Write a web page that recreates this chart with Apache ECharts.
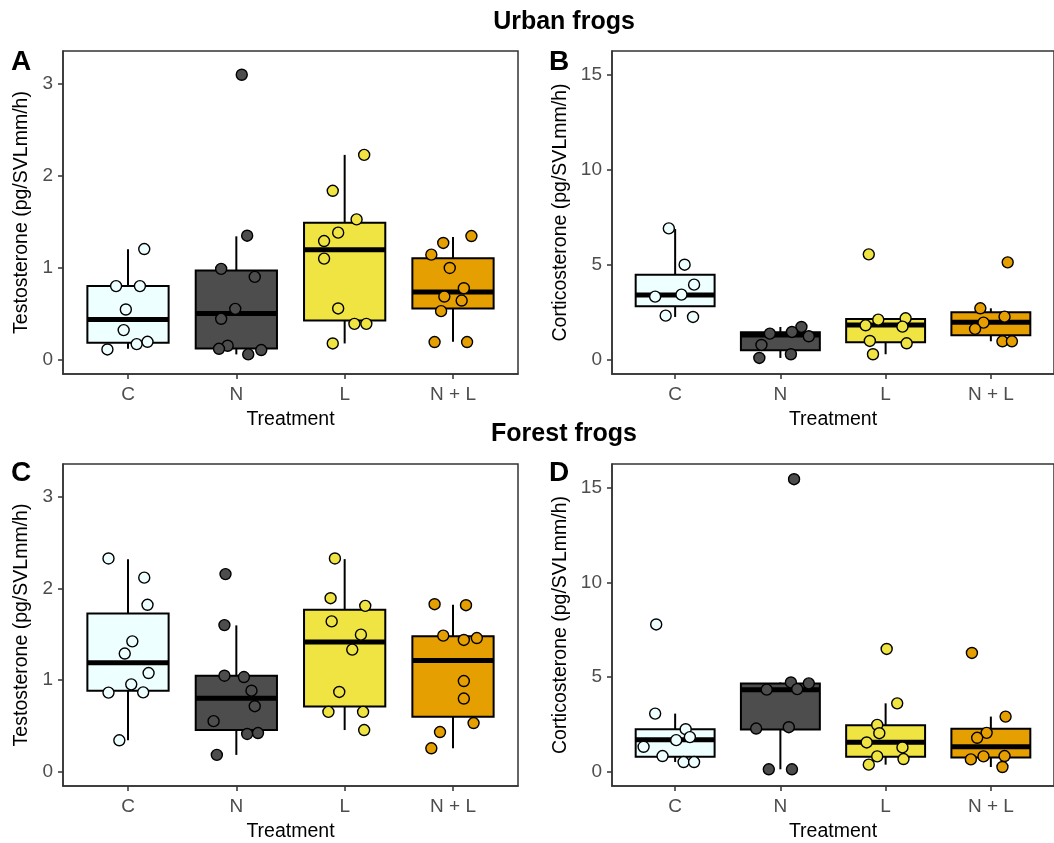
<!DOCTYPE html>
<html>
<head>
<meta charset="utf-8">
<script src="https://cdn.jsdelivr.net/npm/echarts@6/dist/echarts.min.js"></script>
<style>
html,body{margin:0;padding:0;background:#fff;}
#chart{width:1054px;height:843px;}
</style>
</head>
<body>
<div id="chart"></div>
<script>
// ---------- data ----------
const categories = ['C', 'N', 'L', 'N + L'];
const testoTicks = [0, 1, 2, 3];
const corticoTicks = [0, 5, 10, 15];

// Box stats per treatment: [lower whisker, Q1, median, Q3, upper whisker]
const urbanTestoBox = [
  [0.12, 0.184, 0.437, 0.80, 1.20],
  [0.058, 0.123, 0.502, 0.969, 1.341],
  [0.177, 0.426, 1.196, 1.489, 2.226],
  [0.195, 0.557, 0.737, 1.102, 1.334]
];
const urbanTestoValues = [
  [0.112, 0.80, 0.80, 1.203, 0.546, 0.322, 0.170, 0.195],
  [3.097, 1.348, 0.987, 0.90, 0.553, 0.445, 0.152, 0.119, 0.105, 0.058],
  [2.226, 1.836, 1.525, 1.381, 1.290, 1.099, 0.557, 0.390, 0.390, 0.177],
  [1.344, 1.269, 1.142, 0.997, 0.777, 0.687, 0.643, 0.528, 0.192, 0.192]
];
const urbanTestoJitter = [
  [-0.19, -0.11, 0.11, 0.15, -0.02, -0.04, 0.08, 0.18],
  [0.05, 0.10, -0.14, 0.17, -0.01, -0.14, -0.08, -0.16, 0.23, 0.11],
  [0.18, -0.11, 0.11, -0.06, -0.19, -0.19, -0.06, 0.09, 0.20, -0.11],
  [0.17, -0.09, -0.20, -0.03, 0.10, -0.08, 0.08, -0.11, -0.17, 0.13]
];

const urbanCortiBox = [
  [2.258, 2.818, 3.413, 4.481, 6.88],
  [0.105, 0.508, 1.31, 1.453, 1.733],
  [0.298, 0.928, 1.838, 2.153, 2.188],
  [0.98, 1.295, 1.978, 2.503, 2.713]
];
const urbanCortiValues = [
  [6.914, 5.006, 3.956, 3.326, 3.431, 2.328, 2.258],
  [1.733, 1.383, 1.470, 1.243, 0.788, 0.298, 0.105],
  [5.549, 2.118, 2.188, 1.820, 1.750, 0.998, 0.875, 0.298],
  [5.129, 2.713, 2.276, 1.960, 1.628, 0.980, 0.980]
];
const urbanCortiJitter = [
  [-0.06, 0.09, 0.18, -0.19, 0.06, -0.09, 0.17],
  [0.20, -0.10, 0.11, 0.27, -0.18, 0.10, -0.20],
  [-0.16, -0.07, 0.19, -0.19, 0.16, -0.15, 0.20, -0.12],
  [0.16, -0.10, 0.13, -0.07, -0.15, 0.11, 0.20]
];

const forestTestoBox = [
  [0.343, 0.884, 1.188, 1.726, 2.318],
  [0.184, 0.455, 0.801, 1.047, 1.596],
  [0.455, 0.711, 1.415, 1.765, 2.318],
  [0.256, 0.599, 1.213, 1.477, 1.820]
];
const forestTestoValues = [
  [2.325, 2.116, 1.820, 1.422, 1.289, 1.076, 0.953, 0.863, 0.866, 0.343],
  [2.155, 1.599, 1.047, 1.033, 0.884, 0.715, 0.552, 0.412, 0.422, 0.184],
  [2.325, 1.892, 1.809, 1.639, 1.495, 1.332, 0.870, 0.653, 0.653, 0.455],
  [1.827, 1.816, 1.484, 1.437, 1.458, 0.989, 0.798, 0.531, 0.433, 0.256]
];
const forestTestoJitter = [
  [-0.18, 0.15, 0.18, 0.04, -0.03, 0.19, 0.03, -0.18, 0.14, -0.08],
  [-0.10, -0.11, -0.11, 0.07, 0.14, 0.17, -0.21, 0.10, 0.20, -0.18],
  [-0.09, -0.13, 0.19, -0.12, 0.15, 0.07, -0.05, -0.15, 0.17, 0.18],
  [-0.17, 0.12, -0.09, 0.10, 0.22, 0.10, 0.10, 0.19, -0.12, -0.20]
];

const forestCortiBox = [
  [0.524, 0.804, 1.696, 2.255, 3.077],
  [0.14, 2.238, 4.34, 4.67, 4.72],
  [0.385, 0.804, 1.573, 2.465, 3.619],
  [0.262, 0.769, 1.329, 2.273, 2.92]
];
const forestCortiValues = [
  [7.78, 3.077, 2.255, 1.836, 1.678, 1.329, 0.839, 0.524, 0.524],
  [15.437, 4.72, 4.67, 4.34, 4.37, 2.29, 2.36, 0.14, 0.14],
  [6.486, 3.619, 2.483, 2.045, 1.556, 1.294, 0.822, 0.682, 0.385],
  [6.276, 2.92, 2.063, 1.801, 0.822, 0.664, 0.839, 0.262]
];
const forestCortiJitter = [
  [-0.18, -0.19, 0.10, 0.14, 0.01, -0.30, -0.12, 0.08, 0.18],
  [0.13, 0.10, 0.27, -0.13, 0.16, -0.23, 0.08, -0.11, 0.11],
  [0.01, 0.11, -0.08, -0.06, -0.18, 0.16, -0.08, 0.17, -0.16],
  [-0.18, 0.14, -0.04, -0.13, -0.07, -0.19, 0.13, 0.11]
];

// ---------- styles ----------
const fillColors = ['#EEFFFF', '#4D4D4D', '#F0E442', '#E69F00'];
const FONT = 'Liberation Sans, Arial, Helvetica, sans-serif';

const panels = [
  {box: urbanTestoBox, vals: urbanTestoValues, jit: urbanTestoJitter, ticks: testoTicks, min: -0.155, max: 3.355,
   name: 'Testosterone (pg/SVLmm/h)', grid: {left: 63, top: 51, width: 455, height: 323}, nameGap: 31},
  {box: urbanCortiBox, vals: urbanCortiValues, jit: urbanCortiJitter, ticks: corticoTicks, min: -0.74, max: 16.24,
   name: 'Corticosterone (pg/SVLmm/h)', grid: {left: 612, top: 51, width: 448, height: 323}, nameGap: 41},
  {box: forestTestoBox, vals: forestTestoValues, jit: forestTestoJitter, ticks: testoTicks, min: -0.155, max: 3.355,
   name: 'Testosterone (pg/SVLmm/h)', grid: {left: 63, top: 464, width: 455, height: 324}, nameGap: 31},
  {box: forestCortiBox, vals: forestCortiValues, jit: forestCortiJitter, ticks: corticoTicks, min: -0.74, max: 16.24,
   name: 'Corticosterone (pg/SVLmm/h)', grid: {left: 612, top: 464, width: 448, height: 324}, nameGap: 41}
];

const grids = [], xAxes = [], yAxes = [], series = [];
const catIdx = categories.map((c, i) => i);

panels.forEach((p, k) => {
  grids.push(Object.assign({show: true, borderColor: '#333', borderWidth: 1.5, backgroundColor: 'transparent'}, p.grid));
  xAxes.push({
    type: 'value', gridIndex: k, min: -0.6, max: 3.6,
    name: 'Treatment', nameLocation: 'middle', nameGap: 36,
    nameTextStyle: {color: '#000', fontSize: 19.5, fontFamily: FONT},
    axisLine: {show: true, onZero: false, lineStyle: {color: '#333', width: 1.5}},
    axisTick: {show: true, customValues: catIdx, length: 5, lineStyle: {color: '#333', width: 1.5}},
    axisLabel: {show: true, customValues: catIdx, margin: 11, color: '#4D4D4D', fontSize: 19, fontFamily: FONT,
      formatter: v => categories[Math.round(v)]},
    splitLine: {show: false}
  });
  yAxes.push({
    type: 'value', gridIndex: k, min: p.min, max: p.max,
    name: p.name, nameLocation: 'middle', nameGap: p.nameGap,
    nameTextStyle: {color: '#000', fontSize: 19.5, fontFamily: FONT},
    axisLine: {show: true, onZero: false, lineStyle: {color: '#333', width: 1.5}},
    axisTick: {show: true, customValues: p.ticks, length: 5, lineStyle: {color: '#333', width: 1.5}},
    axisLabel: {show: true, customValues: p.ticks, margin: 10, color: '#4D4D4D', fontSize: 19, fontFamily: FONT},
    splitLine: {show: false}
  });
  // boxes
  series.push({
    type: 'custom', xAxisIndex: k, yAxisIndex: k, silent: true,
    encode: {x: 0, y: [1, 2, 3, 4, 5]},
    data: p.box.map((b, i) => [i].concat(b)),
    renderItem: function (params, api) {
      const x = api.value(0);
      const lo = api.coord([x, api.value(1)]);
      const q1 = api.coord([x, api.value(2)]);
      const md = api.coord([x, api.value(3)]);
      const q3 = api.coord([x, api.value(4)]);
      const hi = api.coord([x, api.value(5)]);
      const half = api.size([0.75, 0])[0] / 2;
      const fill = fillColors[params.dataIndex];
      return {
        type: 'group',
        children: [
          {type: 'line', shape: {x1: hi[0], y1: hi[1], x2: q3[0], y2: q3[1]}, style: {stroke: '#000', lineWidth: 2}},
          {type: 'line', shape: {x1: q1[0], y1: q1[1], x2: lo[0], y2: lo[1]}, style: {stroke: '#000', lineWidth: 2}},
          {type: 'rect', shape: {x: q3[0] - half, y: q3[1], width: half * 2, height: q1[1] - q3[1]},
            style: {fill: fill, stroke: '#000', lineWidth: 2}},
          {type: 'line', shape: {x1: md[0] - half, y1: md[1], x2: md[0] + half, y2: md[1]}, style: {stroke: '#000', lineWidth: 5}}
        ]
      };
    },
    z: 2
  });
  // points
  p.vals.forEach((arr, i) => {
    series.push({
      type: 'scatter', xAxisIndex: k, yAxisIndex: k, silent: true,
      symbol: 'circle', symbolSize: 11,
      itemStyle: {color: fillColors[i], borderColor: '#000', borderWidth: 1.4, opacity: 1},
      data: arr.map((v, j) => [i + p.jit[i][j], v]),
      z: 3
    });
  });
});

const chart = echarts.init(document.getElementById('chart'), null, {renderer: 'canvas'});
chart.setOption({
  animation: false,
  backgroundColor: '#fff',
  title: [
    {text: 'Urban frogs', left: 559, top: 5, textAlign: 'center',
      textStyle: {fontSize: 25, fontWeight: 'bold', color: '#000', fontFamily: FONT}},
    {text: 'Forest frogs', left: 559, top: 417, textAlign: 'center',
      textStyle: {fontSize: 25, fontWeight: 'bold', color: '#000', fontFamily: FONT}}
  ],
  graphic: [
    {type: 'text', left: 11, top: 48, style: {text: 'A', font: 'bold 28px ' + FONT, fill: '#000'}},
    {type: 'text', left: 549, top: 48, style: {text: 'B', font: 'bold 28px ' + FONT, fill: '#000'}},
    {type: 'text', left: 11, top: 459, style: {text: 'C', font: 'bold 28px ' + FONT, fill: '#000'}},
    {type: 'text', left: 549, top: 459, style: {text: 'D', font: 'bold 28px ' + FONT, fill: '#000'}}
  ],
  grid: grids,
  xAxis: xAxes,
  yAxis: yAxes,
  series: series
});
</script>
</body>
</html>
